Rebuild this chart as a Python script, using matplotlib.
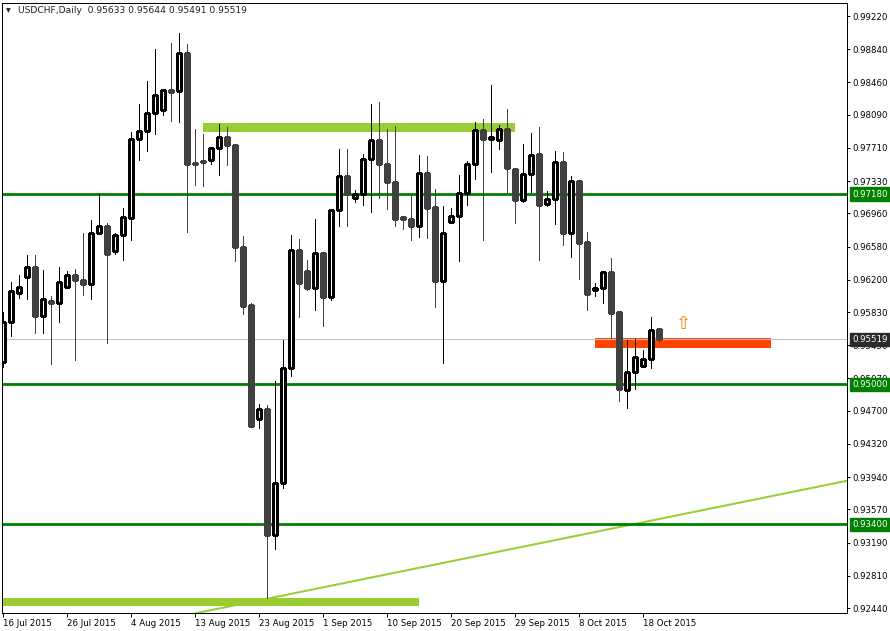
import matplotlib
matplotlib.use('Agg')
import matplotlib.pyplot as plt
from matplotlib.patches import Rectangle
import matplotlib.transforms as mtrans

# ---------------- data ----------------
opens = [0.9526, 0.9571, 0.9605, 0.9623, 0.9634, 0.9579, 0.9596, 0.9593, 0.9612, 0.9625,
         0.9620, 0.9615, 0.9674, 0.9682, 0.9653, 0.9671, 0.9691, 0.9781, 0.9790, 0.9811,
         0.9814, 0.9837, 0.9836, 0.9880, 0.9754, 0.9756, 0.9757, 0.9771, 0.9783, 0.9774,
         0.9657, 0.9591, 0.9461, 0.9472, 0.9328, 0.9387, 0.9519, 0.9654, 0.9630, 0.9611,
         0.9651, 0.9600, 0.9700, 0.9739, 0.9714, 0.9718, 0.9758, 0.9780, 0.9752, 0.9732,
         0.9692, 0.9689, 0.9682, 0.9742, 0.9703, 0.9619, 0.9686, 0.9693, 0.9719, 0.9753,
         0.9791, 0.9781, 0.9780, 0.9793, 0.9747, 0.9711, 0.9741, 0.9764, 0.9707, 0.9713,
         0.9755, 0.9673, 0.9733, 0.9663, 0.9608, 0.9611, 0.9629, 0.9583, 0.9494, 0.9514,
         0.9521, 0.9529, 0.95633]
highs = [0.9583, 0.9617, 0.9625, 0.9648, 0.9648, 0.9631, 0.9601, 0.9634, 0.9630, 0.9632,
         0.9674, 0.9688, 0.9718, 0.9685, 0.9673, 0.9702, 0.9789, 0.9821, 0.9848, 0.9884,
         0.9838, 0.9891, 0.9902, 0.9890, 0.9793, 0.9787, 0.9772, 0.9798, 0.9795, 0.9775,
         0.9670, 0.9593, 0.9478, 0.9477, 0.9504, 0.9551, 0.9671, 0.9667, 0.9643, 0.9690,
         0.9651, 0.9701, 0.9770, 0.9770, 0.9723, 0.9764, 0.9821, 0.9823, 0.9793, 0.9796,
         0.9692, 0.9718, 0.9763, 0.9762, 0.9724, 0.9704, 0.9702, 0.9740, 0.9756, 0.9801,
         0.9804, 0.9843, 0.9797, 0.9816, 0.9747, 0.9775, 0.9788, 0.9795, 0.9722, 0.9767,
         0.9766, 0.9739, 0.9733, 0.9675, 0.9616, 0.9630, 0.9645, 0.9583, 0.9551, 0.9552,
         0.9540, 0.9577, 0.95644]
lows = [0.9520, 0.9555, 0.9599, 0.9598, 0.9559, 0.9559, 0.9524, 0.9572, 0.9612, 0.9528,
        0.9603, 0.9598, 0.9674, 0.9547, 0.9650, 0.9642, 0.9666, 0.9757, 0.9767, 0.9787,
        0.9809, 0.9802, 0.9801, 0.9675, 0.9729, 0.9727, 0.9752, 0.9740, 0.9751, 0.9641,
        0.9581, 0.9452, 0.9450, 0.9255, 0.9312, 0.9382, 0.9510, 0.9577, 0.9608, 0.9585,
        0.9567, 0.9597, 0.9681, 0.9682, 0.9709, 0.9706, 0.9698, 0.9714, 0.9701, 0.9681,
        0.9678, 0.9666, 0.9669, 0.9668, 0.9589, 0.9525, 0.9685, 0.9641, 0.9706, 0.9735,
        0.9666, 0.9743, 0.9770, 0.9721, 0.9685, 0.9709, 0.9721, 0.9643, 0.9704, 0.9684,
        0.9660, 0.9646, 0.9621, 0.9585, 0.9601, 0.9593, 0.9553, 0.9481, 0.9473, 0.9495,
        0.9521, 0.9519, 0.95491]
closes = [0.9571, 0.9607, 0.9612, 0.9634, 0.9579, 0.9598, 0.9593, 0.9617, 0.9625, 0.9620,
          0.9615, 0.9674, 0.9682, 0.9649, 0.9671, 0.9692, 0.9781, 0.9790, 0.9811, 0.9831,
          0.9837, 0.9835, 0.9880, 0.9753, 0.9753, 0.9755, 0.9771, 0.9783, 0.9774, 0.9657,
          0.9590, 0.9453, 0.9472, 0.9328, 0.9387, 0.9519, 0.9654, 0.9616, 0.9611, 0.9651,
          0.9600, 0.9700, 0.9739, 0.9718, 0.9718, 0.9758, 0.9780, 0.9752, 0.9732, 0.9690,
          0.9689, 0.9682, 0.9742, 0.9702, 0.9619, 0.9674, 0.9693, 0.9719, 0.9753, 0.9791,
          0.9781, 0.9783, 0.9793, 0.9748, 0.9711, 0.9741, 0.9763, 0.9705, 0.9712, 0.9755,
          0.9673, 0.9733, 0.9662, 0.9604, 0.9611, 0.9629, 0.9582, 0.9495, 0.9514, 0.9531,
          0.9529, 0.9562, 0.95519]

date_tick_bars = [0, 8, 16, 24, 32, 40, 48, 56, 64, 72, 80]
date_tick_labels = ['16 Jul 2015', '26 Jul 2015', '4 Aug 2015', '13 Aug 2015', '23 Aug 2015',
                    '1 Sep 2015', '10 Sep 2015', '20 Sep 2015', '29 Sep 2015', '8 Oct 2015',
                    '18 Oct 2015']
price_ticks = [0.99220, 0.98840, 0.98460, 0.98090, 0.97710, 0.97330, 0.96960, 0.96580,
               0.96200, 0.95830, 0.95450, 0.95070, 0.94700, 0.94320, 0.93940, 0.93570,
               0.93190, 0.92810, 0.92440]

level_prices = [0.9718, 0.9500, 0.9340]
current_price = 0.95519
header_values = [0.95633, 0.95644, 0.95491, 0.95519]

# zones: (bar_start, bar_end, price_low, price_high)
top_zone = (25, 64, 0.9789, 0.9800)
bottom_zone = (-2, 52, 0.9246, 0.9256)
orange_zone = (74, 96, 0.9542, 0.9553)
trend_points = [(33, 0.92547), (105.5, 0.93898)]
arrow_bar, arrow_price = 85, 0.95693

# ---------------- figure ----------------
W, H = 890, 631
PX = 0.72  # one pixel in points at dpi 100
FONT = 'DejaVu Sans'
FS = 6.2

fig = plt.figure(figsize=(W / 100, H / 100), dpi=100)
fig.patch.set_facecolor('white')
ax = fig.add_axes([2 / W, (H - 613) / H, 845 / W, 610 / H])
ax.set_facecolor('white')
ax.set_xlim(-0.1625, 105.46)
ax.set_ylim(0.92383, 0.99369)

for s in ax.spines.values():
    s.set_color('black')
    s.set_linewidth(PX)

# zones
for (b0, b1, p0, p1), col in [(top_zone, '#9ACD32'), (bottom_zone, '#9ACD32'),
                              (orange_zone, '#FF4500')]:
    ax.add_patch(Rectangle((b0, p0), b1 - b0, p1 - p0, facecolor=col, edgecolor='none',
                           zorder=1.2, antialiased=False))

# trend line (extended both ways)
(x1, y1), (x2, y2) = trend_points
slope = (y2 - y1) / (x2 - x1)
xa, xb = 15, 110
ax.plot([xa, xb], [y1 + slope * (xa - x1), y1 + slope * (xb - x1)], color='#9ACD32',
        lw=2 * PX, zorder=1.3, solid_capstyle='butt')

# horizontal levels
for p in level_prices:
    ax.axhline(p, color='#008000', lw=2.8 * PX, zorder=1.4)
ax.axhline(current_price, color='#C0C0C0', lw=PX, zorder=1.5)

# candles
for i, (o, h, l, c) in enumerate(zip(opens, highs, lows, closes)):
    up = c >= o
    col = 'black' if up else '#404040'
    ax.vlines(i, l, h, colors=col, lw=PX, zorder=3, antialiased=False)
    bot = min(o, c)
    ht = max(abs(c - o), 0.00003)
    ax.add_patch(Rectangle((i - 0.26, bot), 0.52, ht, facecolor='white' if up else '#404040',
                           edgecolor=col, lw=PX * 1.2, zorder=4, antialiased=False))

# arrow
ax.text(arrow_bar, arrow_price, '\u21e7', color='#FF7F00', fontsize=13, ha='center',
        va='center', family=FONT, zorder=5)

# axes ticks
ax.yaxis.tick_right()
ax.set_yticks(price_ticks)
ax.set_yticklabels(['%.5f' % p for p in price_ticks])
ax.tick_params(axis='y', direction='out', length=3 * PX, width=PX, pad=1.5,
               labelsize=FS, colors='black')
ax.set_xticks(date_tick_bars)
ax.set_xticklabels(date_tick_labels)
ax.tick_params(axis='x', direction='out', length=3.5 * PX, width=PX, pad=1.5,
               labelsize=FS, colors='black')
for lab in ax.get_xticklabels():
    lab.set_horizontalalignment('left')
    lab.set_family(FONT)
for lab in ax.get_yticklabels():
    lab.set_family(FONT)

# price label boxes on the right axis
tr = mtrans.blended_transform_factory(ax.transAxes, ax.transData)
xoff = 1 + 5 / 845
for p in level_prices:
    ax.text(xoff, p, '%.5f' % p, transform=tr, color='white', fontsize=FS, family=FONT,
            ha='left', va='center', clip_on=False, zorder=10,
            bbox=dict(boxstyle='square,pad=0.25', facecolor='#008000', edgecolor='#008000'))
ax.text(xoff, current_price, '%.5f' % current_price, transform=tr, color='white', fontsize=FS,
        family=FONT, ha='left', va='center', clip_on=False, zorder=10,
        bbox=dict(boxstyle='square,pad=0.25', facecolor='#2B2B2B', edgecolor='#2B2B2B'))

# header
fig.text(6 / W, 1 - 10.5 / H, '\u25bc', fontsize=4.5, color='#202020', family=FONT,
         ha='left', va='center')
fig.text(18 / W, 1 - 10.5 / H,
         'USDCHF,Daily  ' + ' '.join('%.5f' % v for v in header_values),
         fontsize=FS + 0.4, color='#202020', family=FONT, ha='left', va='center')

fig.savefig('out.png', dpi=100, facecolor='white')
